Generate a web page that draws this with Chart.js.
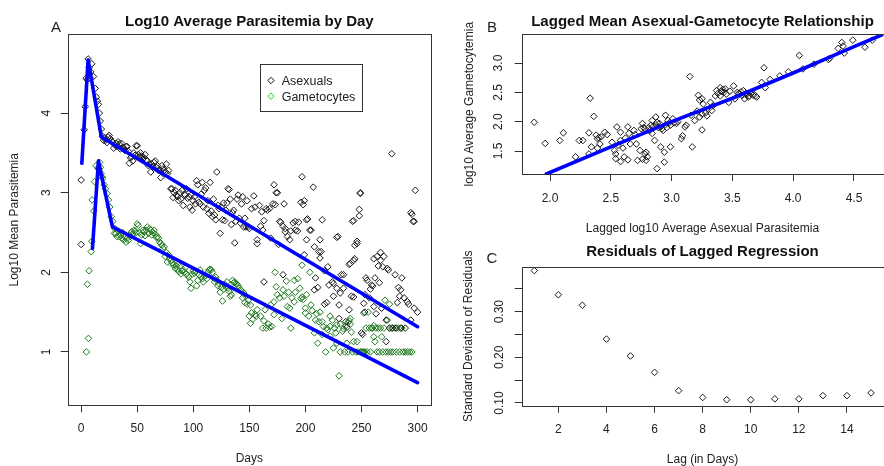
<!DOCTYPE html>
<html>
<head>
<meta charset="utf-8">
<script src="https://cdn.jsdelivr.net/npm/chart.js@4.4.0/dist/chart.umd.min.js"></script>
<style>
  html, body { margin: 0; padding: 0; background: #fff; overflow: hidden; width: 884px; height: 466px; }
  .panel { position: absolute; }
  canvas { display: block; }
</style>
</head>
<body>
<div class="panel" style="left:0;top:0"><canvas id="chartA" width="445" height="466"></canvas></div>
<div class="panel" style="left:450px;top:0"><canvas id="chartB" width="434" height="236"></canvas></div>
<div class="panel" style="left:450px;top:236px"><canvas id="chartC" width="434" height="231"></canvas></div>
<script>
// ---- panel A: log10 mean parasitemia by day ----
const asexualPoints = [
  [0,3.16],[0,2.35],[2.7,3.79],[3.6,4.08],[4.5,4.44],[5.4,4.42],[6.2,4.68],[7.1,4.57],[8,4.44],[8.5,4.52],
  [9.5,4.62],[11,4.46],[12.5,4.31],[13.6,4.2],[14.5,4.15],[15.4,4.11],[16.2,4.0],[17,3.9],[18,3.8],
  [19,3.71],[20,3.66],[21,3.69],[22,3.66],[23,3.63],[24,3.70],[25,3.72],[26,3.68],[27,3.65],[28,3.64],
  [29,3.56],[30,3.60],[31,3.62],[32,3.58],[33,3.64],[34,3.61],[35,3.55],[36,3.62],[37,3.57],[38,3.56],
  [39,3.53],[40,3.58],[41,3.58],[42,3.52],[43,3.37],[44,3.44],[45,3.45],[46,3.40],[47,3.50],[48,3.47],
  [49,3.59],[50,3.59],[51,3.48],[52,3.45],[53,3.50],[54,3.46],[55,3.42],[56,3.44],[57,3.48],[58,3.41],
  [59,3.40],[60,3.34],[61,3.36],[62,3.26],[63,3.36],[64,3.33],[65,3.38],[66,3.40],[67,3.32],[68,3.34],
  [69,3.28],[70,3.29],[71,3.19],[72,3.34],[73,3.30],[74,3.28],[75,3.26],[76,3.36],[77,3.24],[78,3.28],
  [80,3.05],[81,3.05],[82,2.94],[83,3.0],[84,3.03],[85,2.97],[86,2.95],[87,2.90],[88,3.0],[89,2.92],
  [90,3.03],[91,2.84],[92,2.98],[93,2.97],[94,3.05],[95,2.93],[96,2.95],[97,2.82],[98,2.97],[99,2.78],
  [100,2.9],[101,2.95],[102,2.86],[103,3.15],[104,3.1],[105,2.88],[106,2.86],[107,2.98],[108,3.13],[109,2.82],
  [110,3.03],[111,3.06],[112,2.8],[113,2.90],[114,2.74],[115,3.13],[116,2.77],[117,2.7],[118,2.92],[119,2.72],
  [120,2.66],[121,3.26],[122,2.84],[123,2.8],[124,2.49],[125,2.82],[126,2.66],[127,2.87],[128,2.65],[129,2.78],
  [130,2.87],[131,3.05],[132,3.04],[133,2.92],[134,2.60],[135,2.75],[136,2.78],[137,2.37],[138,2.64],[139,2.92],
  [140,2.97],[141,2.68],[142,2.62],[143,2.86],[144,2.95],[145,2.57],[146,2.68],[147,2.57],[148,2.90],[149,2.57],
  [150,2.55],[152,2.8],[154,2.96],[155,2.82],[157,2.41],[157,2.36],[159,2.84],[160,2.58],[161,2.76],[162,2.53],
  [163,2.65],[163,1.88],[165,2.8],[166,2.78],[168,2.8],[169,2.43],[171,2.86],[172,3.10],[173,2.85],[174,3.00],
  [175,3.0],[176,2.35],[177,2.64],[178,2.63],[180,1.97],[180,2.58],[181,2.86],[182,2.51],[182,2.55],[184,2.45],
  [186,2.41],[187,2.52],[189,2.62],[191,2.64],[191,2.53],[193,2.52],[194,2.63],[196,2.88],[197,3.2],[198,2.85],
  [199,2.9],[199,2.22],[201,2.66],[201,2.41],[202,2.67],[204,2.53],[205,2.53],[207,3.07],[208,2.32],[208,1.78],
  [209,1.93],[211,1.81],[212,2.26],[213,2.41],[213,2.18],[214,2.26],[215,2.66],[217,2.02],[217,1.60],[219,1.62],
  [220,2.07],[221,1.84],[224,1.88],[225,1.86],[225,1.70],[228,2.44],[228,1.80],[229,2.45],[230,1.59],[230,1.42],
  [231,1.74],[232,1.97],[234,1.97],[234,1.80],[236,1.38],[237,1.31],[239,2.10],[239,1.53],[240,2.11],[241,1.70],
  [242,2.64],[243,2.65],[243,2.15],[243,1.69],[244,2.34],[244,2.17],[246,2.39],[246,2.36],[248,2.79],[248,2.71],
  [249,3.0],[249,2.99],[250,1.24],[251,1.22],[252,1.61],[253,1.72],[253,1.50],[254,1.93],[255,1.90],[257,1.68],
  [258,1.79],[259,1.84],[260,1.83],[261,2.17],[261,1.57],[262,1.93],[263,1.48],[264,2.20],[265,2.08],[266,1.87],
  [267,2.25],[267,2.15],[268,1.55],[269,2.07],[270,2.20],[272,1.13],[272,1.40],[273,2.05],[274,2.03],[275,1.30],
  [277,3.49],[278,1.30],[280,1.97],[281,1.30],[282,1.62],[283,1.81],[284,1.70],[285,1.30],[285,1.78],[286,1.93],
  [288,1.68],[289,1.30],[291,1.63],[292,1.60],[294,2.75],[294,1.40],[295,2.73],[296,2.64],[297,2.64],[297,1.55],
  [298,3.03],[300,1.50]
];
const gametocytePoints = [
  [4.7,1.0],[5.6,1.85],[6.5,1.17],[7.1,2.02],[8.9,2.26],[9.5,2.39],[9.8,2.91],[11.3,2.77],[11.9,3.14],[13.4,3.34],
  [14.8,3.31],[15.5,3.30],[16.6,3.38],[17.2,3.32],[17.8,3.24],[18.5,3.20],[19.3,3.18],[20.5,3.10],[21.7,3.05],[23.1,2.99],
  [24.3,2.91],[25.5,2.82],[26.7,2.70],[28.2,2.64],[29.7,2.49],
  [30,2.55],[31,2.49],[32,2.45],[33,2.52],[34,2.45],[35,2.47],[36,2.43],[37,2.50],[38,2.41],[39,2.45],
  [40,2.38],[41,2.43],[42,2.40],[43,2.47],[44,2.45],[45,2.51],[46,2.48],[47,2.53],[48,2.52],[49,2.50],
  [50,2.61],[51,2.59],[52,2.50],[53,2.36],[54,2.47],[55,2.53],[56,2.51],[57,2.46],[58,2.53],[59,2.57],
  [60,2.49],[61,2.55],[62,2.53],[63,2.47],[64,2.50],[65,2.53],[66,2.48],[67,2.44],[68,2.45],[69,2.43],
  [70,2.38],[71,2.36],[72,2.34],[73,2.30],[74,2.32],[75,2.20],[76,2.25],[77,2.13],[78,2.22],[79,2.18],
  [80,2.15],[81,2.12],[82,2.09],[83,2.10],[84,2.05],[85,2.08],[86,2.04],[87,2.01],[88,2.07],[89,1.98],
  [90,2.02],[91,2.03],[92,2.00],[93,2.06],[94,1.98],[95,1.96],[96,1.94],[97,1.88],[98,1.80],[99,1.98],
  [100,2.02],[101,1.99],[102,2.01],[103,1.83],[104,1.90],[105,1.97],[106,2.03],[107,1.95],[108,1.92],[109,1.88],
  [110,1.95],[111,1.96],[112,1.92],[113,2.0],[114,2.03],[115,2.04],[116,2.03],[117,2.0],[118,1.93],[119,1.88],
  [120,1.94],[121,1.90],[122,1.83],[123,1.86],[124,1.75],[125,1.81],[126,1.64],[127,1.79],[128,1.85],[129,1.82],
  [130,1.88],[131,1.80],[132,1.76],[133,1.70],[134,1.72],[135,1.90],[136,1.87],[137,1.88],[138,1.86],[139,1.85],
  [140,1.83],[141,1.80],[142,1.78],[143,1.77],[144,1.68],[145,1.74],[146,1.62],[147,1.70],[148,1.60],[149,1.65],
  [150,1.45],[151,1.36],[151,1.59],[152,1.49],[153,1.41],[155,1.47],[156,1.45],[157,1.53],[160,1.45],[162,1.30],
  [163,1.39],[164,1.53],[165,1.30],[167,1.35],[168,1.31],[169,1.59],[170,1.32],[172,1.63],[172,1.47],[173,2.0],
  [174,1.82],[175,1.72],[177,1.68],[179,1.42],[180,1.78],[181,1.70],[183,1.89],[184,1.57],[185,1.75],[186,1.55],
  [187,1.30],[188,1.68],[190,1.90],[190,1.63],[191,1.75],[193,1.92],[195,1.80],[196,1.67],[197,2.09],[197,1.69],
  [198,1.66],[200,1.55],[200,1.49],[201,1.72],[203,1.45],[204,2.0],[205,1.59],[206,1.52],[208,1.24],[209,1.40],
  [210,1.48],[211,1.11],[212,1.38],[213,1.50],[215,1.22],[215,1.38],[216,1.32],[218,1.0],[219,1.30],[220,1.28],
  [222,1.45],[222,1.20],[222,1.32],[224,1.40],[225,1.05],[226,1.30],[227,1.24],[228,1.34],[228,1.11],[230,0.70],
  [231,1.35],[231,1.0],[233,1.26],[234,1.29],[235,1.0],[236,1.33],[237,1.11],[238,1.0],[238,1.37],[239,1.39],
  [240,1.35],[240,1.42],[241,1.25],[242,1.0],[243,1.13],[245,1.0],[246,1.13],[247,1.0],[249,1.0],[250,1.0],
  [251,1.0],[252,1.0],[252,1.49],[253,1.0],[254,1.3],[255,1.0],[256,1.50],[257,1.3],[258,1.0],[259,1.3],
  [260,1.3],[261,1.19],[261,1.33],[262,1.13],[263,1.3],[264,1.0],[265,1.3],[266,1.0],[267,1.3],[268,1.19],
  [269,1.0],[270,1.3],[271,1.65],[272,1.0],[273,1.4],[274,1.0],[275,1.3],[275,1.60],[276,1.0],[277,1.3],
  [278,1.0],[280,1.3],[281,1.0],[283,1.3],[284,1.0],[286,1.3],[287,1.0],[289,1.0],[291,1.0],[293,1.0],[295,1.0]
];
const asexualFit = [[0.6,3.37],[6.2,4.67],[18,3.70],[300,1.317]];
const gametocyteFit = [[10.1,2.30],[15.4,3.40],[27.9,2.57],[300,0.615]];
const aXTicks = [0, 50, 100, 150, 200, 250, 300];
const aYTicks = [1, 2, 3, 4];

// ---- panel B: lagged asexual vs gametocyte ----
const laggedPoints = [
  [1.87,1.99],[1.96,1.63],[2.08,1.68],[2.11,1.81],[2.21,1.40],[2.24,1.68],[2.27,1.68],[2.32,1.81],[2.33,2.40],[2.34,1.57],
  [2.32,1.45],[2.36,2.09],[2.38,1.77],[2.39,1.71],[2.40,1.73],[2.42,1.74],[2.41,1.62],[2.39,1.55],[2.45,1.82],[2.47,1.78],
  [2.51,1.65],[2.53,1.51],[2.54,1.45],[2.54,1.37],[2.55,1.91],[2.56,1.60],[2.58,1.82],[2.58,1.68],[2.58,1.32],[2.60,1.55],
  [2.61,1.40],[2.62,1.72],[2.64,1.91],[2.64,1.35],[2.65,1.80],[2.66,1.62],[2.69,1.85],[2.70,1.78],[2.71,1.62],[2.72,1.34],
  [2.74,1.51],[2.75,1.88],[2.76,1.97],[2.76,1.36],[2.77,1.90],[2.78,1.88],[2.78,1.45],[2.79,1.34],[2.79,1.48],[2.80,1.40],
  [2.81,1.90],[2.82,1.85],[2.83,1.94],[2.84,2.02],[2.84,1.80],[2.85,1.92],[2.86,1.68],[2.87,2.08],[2.87,1.95],[2.88,1.99],
  [2.88,1.20],[2.89,1.90],[2.90,1.97],[2.91,1.91],[2.91,1.57],[2.92,1.88],[2.93,1.85],[2.94,1.48],[2.94,1.31],[2.95,2.11],
  [2.95,1.95],[2.96,1.90],[2.97,2.02],[2.98,1.98],[2.99,1.94],[2.99,1.57],[3.01,2.05],[3.02,1.98],[3.04,1.97],[3.05,2.00],
  [3.08,1.71],[3.09,1.76],[3.11,1.91],[3.12,1.94],[3.15,2.77],[3.16,2.11],[3.17,1.57],[3.19,2.02],[3.21,2.18],[3.22,2.45],
  [3.23,2.37],[3.23,2.08],[3.25,2.39],[3.25,2.13],[3.25,1.86],[3.26,2.30],[3.28,2.15],[3.29,2.10],[3.30,2.21],[3.32,2.33],
  [3.33,2.19],[3.34,2.27],[3.36,2.44],[3.37,2.53],[3.38,2.48],[3.40,2.58],[3.40,2.44],[3.41,2.52],[3.42,2.55],[3.43,2.50],
  [3.44,2.56],[3.45,2.47],[3.47,2.33],[3.48,2.52],[3.51,2.61],[3.52,2.39],[3.54,2.50],[3.55,2.48],[3.56,2.47],[3.57,2.51],
  [3.58,2.45],[3.59,2.53],[3.60,2.39],[3.61,2.48],[3.62,2.47],[3.63,2.42],[3.64,2.44],[3.65,2.48],[3.66,2.50],[3.67,2.45],
  [3.69,2.44],[3.70,2.42],[3.74,2.67],[3.76,2.92],[3.77,2.58],[3.81,2.72],[3.89,2.78],[3.96,2.85],[4.05,3.13],[4.08,2.90],
  [4.17,2.98],[4.29,3.06],[4.30,3.08],[4.37,3.25],[4.40,3.35],[4.41,3.29],[4.42,3.17],[4.49,3.39],[4.59,3.27],[4.65,3.39]
];
const laggedFit = [[1.97,1.108],[2.5,1.57],[3.0,2.0],[3.5,2.40],[4.0,2.83],[4.5,3.28],[4.74,3.49]];
const bXTicks = [2.0, 2.5, 3.0, 3.5, 4.0, 4.5];
const bYTicks = [1.5, 2.0, 2.5, 3.0];

// ---- panel C: residual sd by lag ----
const lags = [1, 2, 3, 4, 5, 6, 7, 8, 9, 10, 11, 12, 13, 14, 15];
const residualSd = [0.390, 0.337, 0.314, 0.240, 0.203, 0.167, 0.127, 0.112, 0.107, 0.107, 0.109, 0.109, 0.116, 0.116, 0.122];
const cXTicks = [2, 4, 6, 8, 10, 12, 14];
const cYTicks = [0.10, 0.15, 0.20, 0.25, 0.30, 0.35];
const cYLabels = [0.10, 0.20, 0.30];

const FONT = '"Liberation Sans", Arial, Helvetica, sans-serif';
Chart.defaults.font.family = FONT;
Chart.defaults.color = '#222';

const toXY = arr => arr.map(p => ({ x: p[0], y: p[1] }));

function scale(o) {
  return {
    type: 'linear',
    min: o.min,
    max: o.max,
    afterBuildTicks: s => { s.ticks = o.ticks.map(v => ({ value: v })); },
    afterFit: s => { if (o.vertical) s.width = o.size; else s.height = o.size; },
    grid: { drawOnChartArea: false, tickLength: 7, color: '#333', lineWidth: 1 },
    border: { display: false },
    ticks: {
      font: { size: 12 },
      color: '#222',
      padding: o.pad,
      autoSkip: false,
      minRotation: o.vertical ? 90 : 0,
      maxRotation: o.vertical ? 90 : 0,
      crossAlign: o.vertical ? 'center' : 'near',
      callback: o.fmt
    },
    title: {
      display: true,
      text: o.title,
      font: { size: 12 },
      color: '#222',
      padding: o.vertical ? { top: o.tpad, bottom: 0 } : { top: 0, bottom: o.tpad }
    }
  };
}

// box around the plot area + panel letter + optional legend
const decor = {
  id: 'decor',
  afterDraw(chart, args, opts) {
    const { ctx, chartArea: a } = chart;
    ctx.save();
    ctx.strokeStyle = '#333';
    ctx.lineWidth = 1;
    ctx.strokeRect(Math.round(a.left) + 0.5, Math.round(a.top) + 0.5,
      Math.round(a.right - a.left), Math.round(a.bottom - a.top));
    ctx.fillStyle = '#222';
    ctx.font = '15px ' + FONT;
    ctx.textAlign = 'center';
    ctx.textBaseline = 'middle';
    ctx.fillText(opts.letter, opts.lx, opts.ly);
    if (opts.legend) {
      const L = opts.legend;
      ctx.strokeRect(L.x + 0.5, L.y + 0.5, L.w, L.h);
      ctx.font = '12.5px ' + FONT;
      ctx.textAlign = 'left';
      L.items.forEach((it, i) => {
        const y = L.y + 16.5 + i * 15.6;
        ctx.strokeStyle = it.color;
        ctx.beginPath();
        ctx.moveTo(L.x + 11, y - 3.2); ctx.lineTo(L.x + 14.2, y);
        ctx.lineTo(L.x + 11, y + 3.2); ctx.lineTo(L.x + 7.8, y);
        ctx.closePath(); ctx.stroke();
        ctx.fillStyle = '#222';
        ctx.fillText(it.text, L.x + 21.7, y + 1.3);
      });
    }
    ctx.restore();
  }
};

function points(data, color) {
  return { type: 'scatter', data, borderColor: color, backgroundColor: 'rgba(0,0,0,0)',
    pointStyle: 'rectRot', pointRadius: 3.3, borderWidth: 1 };
}
function fitLine(data, width) {
  return { type: 'scatter', data, showLine: true, borderColor: '#0000ff', borderWidth: width,
    borderJoinStyle: 'round', borderCapStyle: 'round',
    pointRadius: 0, tension: 0, fill: false };
}

function baseOptions(t) {
  return {
    responsive: false,
    animation: false,
    events: [],
    layout: { autoPadding: false, padding: t.padding },
    plugins: {
      legend: { display: false },
      tooltip: { enabled: false },
      title: {
        display: true, text: t.title, fullSize: false,
        font: { size: 15, weight: 'bold' }, color: '#111',
        padding: { top: t.tTop, bottom: t.tBottom }
      },
      decor: t.decor
    },
    scales: t.scales
  };
}

const BLACK = '#1a1a1a';
const GREEN = '#1f7a1f';

new Chart(document.getElementById('chartA'), {
  type: 'scatter',
  data: {
    datasets: [
      fitLine(toXY(asexualFit), 3.6),
      fitLine(toXY(gametocyteFit), 3.6),
      points(toXY(asexualPoints), BLACK),
      points(toXY(gametocytePoints), GREEN)
    ]
  },
  options: baseOptions({
    title: 'Log10 Average Parasitemia by Day',
    padding: { top: 0, right: 14, bottom: 0, left: 0 },
    tTop: 12.7, tBottom: 3.6,
    decor: {
      letter: 'A', lx: 56, ly: 27.5,
      legend: { x: 260, y: 64, w: 102, h: 47,
        items: [{ text: 'Asexuals', color: '#111' }, { text: 'Gametocytes', color: '#22cc22' }] }
    },
    scales: {
      x: scale({ min: -12, max: 312, ticks: aXTicks, size: 60.7, pad: 9.5, tpad: 0.3, title: 'Days', fmt: v => String(v) }),
      y: scale({ vertical: true, min: 0.33, max: 4.99, ticks: aYTicks, size: 67.7, pad: 11, tpad: 7.8, title: 'Log10 Mean Parasitemia', fmt: v => String(v) })
    }
  }),
  plugins: [decor]
});

new Chart(document.getElementById('chartB'), {
  type: 'scatter',
  data: { datasets: [fitLine(toXY(laggedFit), 3.6), points(toXY(laggedPoints), BLACK)] },
  options: baseOptions({
    title: 'Lagged Mean Asexual-Gametocyte Relationship',
    padding: { top: 0, right: 0.7, bottom: 0, left: 0 },
    tTop: 12.7, tBottom: 3.6,
    decor: { letter: 'B', lx: 42, ly: 28 },
    scales: {
      x: scale({ min: 1.767, max: 4.741, ticks: bXTicks, size: 62, pad: 10.8, tpad: 0, title: 'Lagged log10 Average Asexual Parasitemia', fmt: v => v.toFixed(1) }),
      y: scale({ vertical: true, min: 1.108, max: 3.49, ticks: bYTicks, size: 71.7, pad: 8, tpad: 12.8, title: 'log10 Average Gametocytemia', fmt: v => v.toFixed(1) })
    }
  }),
  plugins: [decor]
});

new Chart(document.getElementById('chartC'), {
  type: 'scatter',
  data: { datasets: [points(lags.map((l, i) => ({ x: l, y: residualSd[i] })), BLACK)] },
  options: baseOptions({
    title: 'Residuals of Lagged Regression',
    padding: { top: 0, right: 0.7, bottom: 0, left: 0 },
    tTop: 7.3, tBottom: 5.4,
    decor: { letter: 'C', lx: 42, ly: 23 },
    scales: {
      x: scale({ min: 0.477, max: 15.51, ticks: cXTicks, size: 61.3, pad: 9.3, tpad: 0, title: 'Lag (in Days)', fmt: v => String(v) }),
      y: scale({ vertical: true, min: 0.094, max: 0.3985, ticks: cYTicks, size: 71.7, pad: 3.7, tpad: 11.8,
        title: 'Standard Deviation of Residuals',
        fmt: v => cYLabels.some(l => Math.abs(l - v) < 1e-6) ? v.toFixed(2) : '' })
    }
  }),
  plugins: [decor]
});
</script>
</body>
</html>
